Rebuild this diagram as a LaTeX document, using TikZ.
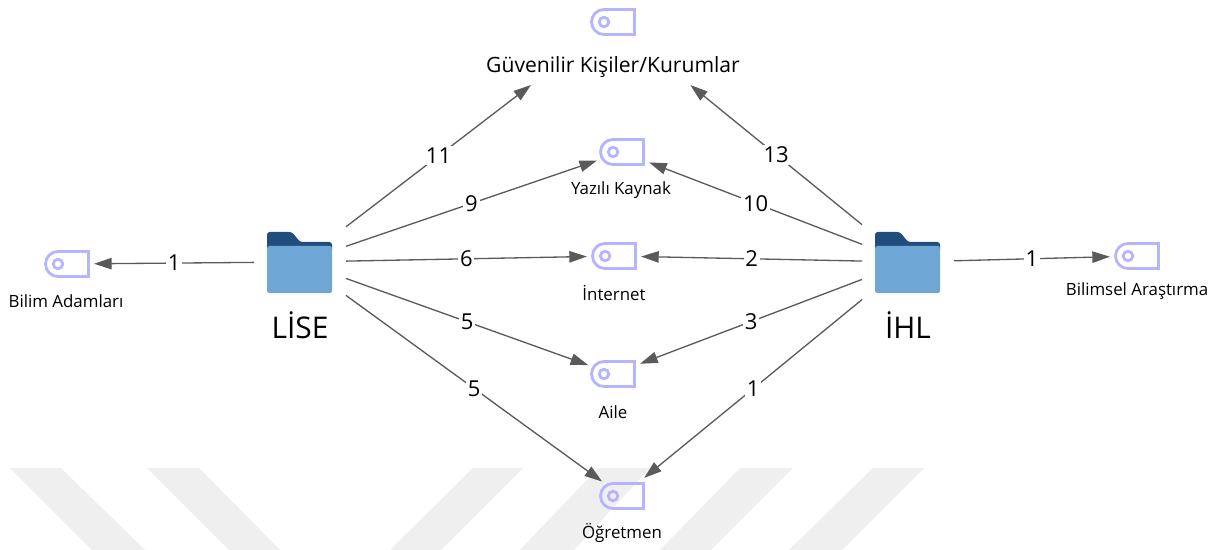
\documentclass[tikz,border=0pt]{standalone}
\usepackage{fontspec}
\setmainfont{Open Sans}
\usetikzlibrary{shapes.misc,arrows.meta}
\definecolor{stripegray}{HTML}{EFEFEF}
\definecolor{icon}{HTML}{B5B5FF}
\definecolor{connline}{HTML}{5A5A5A}
\definecolor{folderdark}{HTML}{1F4E7E}
\definecolor{folderlight}{HTML}{6EA6D6}
\tikzset{
    conn/.style={draw=connline,line width=0.75pt,-{Triangle[length=10pt,width=6.5pt]}},
    sourcebox/.style={rectangle,minimum width=1.84cm,minimum height=1.6cm,inner sep=0pt,outer sep=0pt},
    codebox/.style={rounded rectangle,rounded rectangle right arc=none,draw=icon,line width=1.6pt,minimum width=0.86cm,minimum height=0.5cm,inner sep=0pt,outer sep=3.2pt,
        path picture={\draw[icon,line width=1.6pt] ([xshift=-0.18cm]path picture bounding box.center) circle (0.095cm);}},
    numlabel/.style={fill=white,inner sep=1pt,font=\fontsize{12.5}{14}\selectfont},
    codetext/.style={font=\fontsize{9.6}{12}\selectfont,inner sep=0pt},
    folderfront/.style={fill=folderlight,rounded corners=1pt},
    folderback/.style={fill=folderdark,rounded corners=1.5pt}
}
\begin{document}
\begin{tikzpicture}[x=0.02cm,y=-0.02cm]
    \useasboundingbox (0,0) rectangle (1222,550);

    % Watermark
    \fill[stripegray] (10,468) -- (61,468) -- (145,550) -- (92,550) -- cycle;
    \fill[stripegray] (147,468) -- (199,468) -- (280,550) -- (229,550) -- cycle;
    \fill[stripegray] (473,468) -- (523,468) -- (441,550) -- (390,550) -- cycle;
    \fill[stripegray] (598,468) -- (650,468) -- (574,550) -- (520,550) -- cycle;
    \fill[stripegray] (740,468) -- (793,468) -- (711,550) -- (660,550) -- cycle;
    \fill[stripegray] (873,468) -- (924,468) -- (842,550) -- (789,550) -- cycle;

    % Folders
    \node[sourcebox] (lise) at (300,262) {};
    \node[sourcebox] (ihl) at (908,262) {};
    \foreach \n in {lise,ihl} {
        \begin{scope}[shift={(\n.center)}]
            \fill[folderback] (-33,-16) -- (-33,-30) -- (-8,-30) -- (0,-20) -- (32,-20) -- (32,-10) -- (-33,-10) -- cycle;
            \fill[folderfront] (-33,-16) -- (32,-16) -- (32,31) -- (-33,31) -- cycle;
        \end{scope}
    }
    \node[font=\fontsize{17}{20}\selectfont] (liseText) at (300,325) {LİSE};
    \node[font=\fontsize{17}{20}\selectfont] (ihlText) at (908,325) {İHL};

    % Codes
    \node[sourcebox,minimum width=5cm,minimum height=2.52cm] (guvenilir) at (613,22) {};
    \node[codebox] (guvenilirIcon) at (613,22) {};
    \node[codebox] (yazili) at (622,152) {};
    \node[codebox] (internet) at (614,256) {};
    \node[codebox] (aile) at (613,374) {};
    \node[codebox] (ogretmen) at (622,496) {};
    \node[codebox] (bilim) at (67,264) {};
    \node[codebox] (arastirma) at (1137,256) {};

    \node[codetext,font=\fontsize{12}{14}\selectfont] (guvenilirText) at (613,67) {Güvenilir Kişiler/Kurumlar};
    \node[codetext] (yaziliText) at (621,190) {Yazılı Kaynak};
    \node[codetext] (internetText) at (614,293) {İnternet};
    \node[codetext] (aileText) at (613,412) {Aile};
    \node[codetext] (ogretmenText) at (622,533) {Öğretmen};
    \node[codetext] (bilimText) at (66,301) {Bilim Adamları};
    \node[codetext] (arastirmaText) at (1137,291) {Bilimsel Araştırma};

    % Connectors
    \draw[conn] (lise) -- node[numlabel,pos=0.5] {1} (bilim);
    \draw[conn] (lise) -- node[numlabel,pos=0.5] {11} (guvenilir);
    \draw[conn] (lise) -- node[numlabel,pos=0.5] {9} (yazili);
    \draw[conn] (lise) -- node[numlabel,pos=0.5] {6} (internet);
    \draw[conn] (lise) -- node[numlabel,pos=0.5] {5} (aile);
    \draw[conn] (lise) -- node[numlabel,pos=0.5] {5} (ogretmen);
    \draw[conn] (ihl) -- node[numlabel,pos=0.5] {13} (guvenilir);
    \draw[conn] (ihl) -- node[numlabel,pos=0.5] {10} (yazili);
    \draw[conn] (ihl) -- node[numlabel,pos=0.5] {2} (internet);
    \draw[conn] (ihl) -- node[numlabel,pos=0.5] {3} (aile);
    \draw[conn] (ihl) -- node[numlabel,pos=0.5] {1} (ogretmen);
    \draw[conn] (ihl) -- node[numlabel,pos=0.5] {1} (arastirma);
\end{tikzpicture}
\end{document}
